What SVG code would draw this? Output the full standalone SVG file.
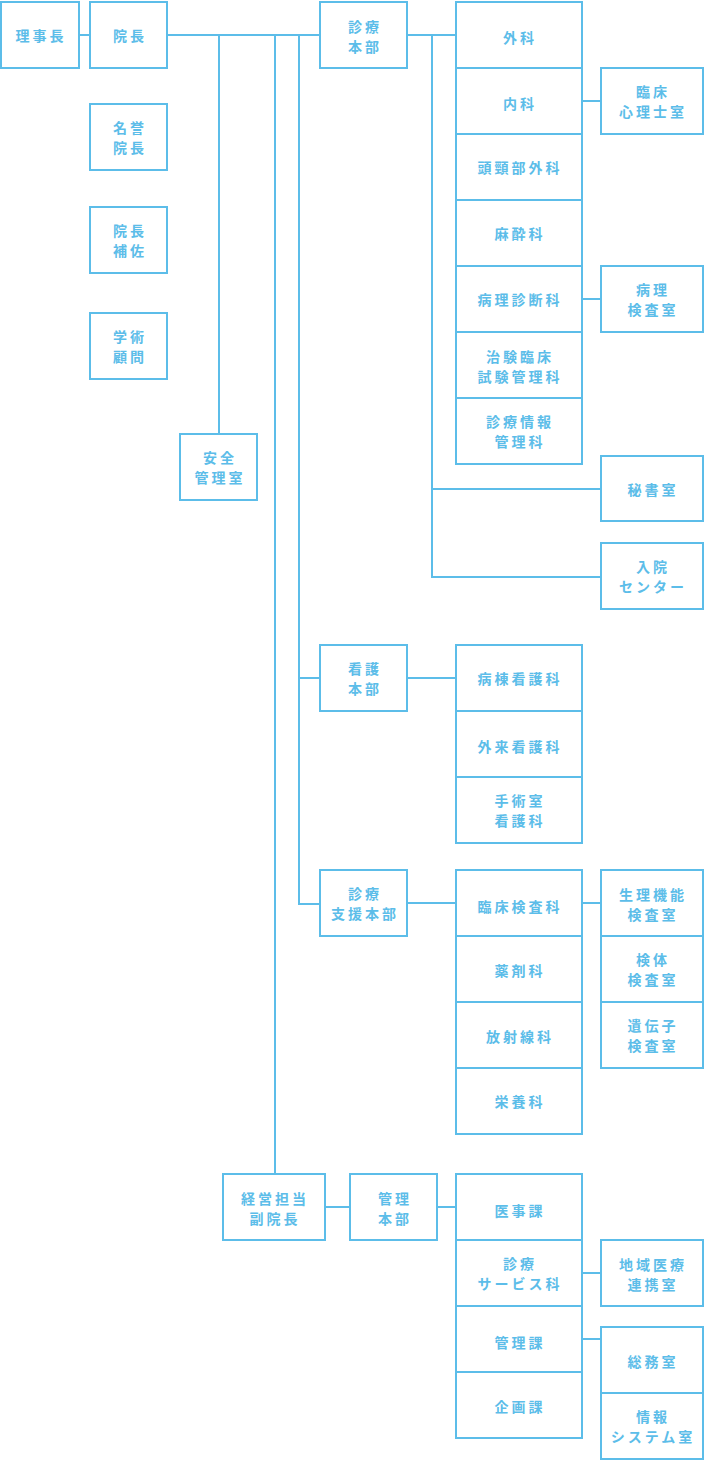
<svg xmlns="http://www.w3.org/2000/svg" width="705" height="1462" viewBox="0 0 705 1462">
<style>
rect{fill:#fff;stroke:#5cbde9;stroke-width:2}
.c line,.c path{stroke:#5cbde9;stroke-width:2;fill:none}
text{fill:#5cbde9;font-family:"Noto Sans CJK JP","Noto Sans",sans-serif;font-size:14px;font-weight:700;letter-spacing:3px;text-anchor:middle;dominant-baseline:central}
</style>
<rect width="705" height="1462" style="stroke:none"/>
<g class="c">
<line x1="79" y1="35" x2="90" y2="35"/>
<line x1="167" y1="35" x2="320" y2="35"/>
<line x1="219" y1="35" x2="219" y2="434"/>
<line x1="275" y1="35" x2="275" y2="1174"/>
<path d="M299 35V904H320"/>
<line x1="299" y1="678" x2="320" y2="678"/>
<line x1="407" y1="35" x2="456" y2="35"/>
<path d="M432 35V577H601"/>
<line x1="432" y1="489" x2="601" y2="489"/>
<line x1="582" y1="101" x2="601" y2="101"/>
<line x1="582" y1="299" x2="601" y2="299"/>
<line x1="407" y1="678" x2="456" y2="678"/>
<line x1="407" y1="903" x2="456" y2="903"/>
<line x1="582" y1="903" x2="601" y2="903"/>
<line x1="325" y1="1207" x2="350" y2="1207"/>
<line x1="437" y1="1207" x2="456" y2="1207"/>
<line x1="582" y1="1273" x2="601" y2="1273"/>
<line x1="582" y1="1339" x2="601" y2="1339"/>
</g>
<g id="rijicho"><rect x="1" y="2" width="78" height="66"/><text x="41" y="35">理事長</text></g>
<g id="incho"><rect x="90" y="2" width="77" height="66"/><text x="130" y="35">院長</text></g>
<g id="meiyo"><rect x="90" y="104" width="77" height="66"/><text x="130" y="127">名誉</text><text x="130" y="147">院長</text></g>
<g id="hosa"><rect x="90" y="207" width="77" height="66"/><text x="130" y="230">院長</text><text x="130" y="250">補佐</text></g>
<g id="komon"><rect x="90" y="313" width="77" height="66"/><text x="130" y="336">学術</text><text x="130" y="356">顧問</text></g>
<g id="anzen"><rect x="180" y="434" width="77" height="66"/><text x="220" y="457">安全</text><text x="220" y="477">管理室</text></g>
<g id="shinryo"><rect x="320" y="2" width="87" height="66"/><text x="365" y="26">診療</text><text x="365" y="46">本部</text></g>
<g id="geka"><rect x="456" y="2" width="126" height="66"/><text x="520" y="37">外科</text></g>
<g id="naika"><rect x="456" y="68" width="126" height="66"/><text x="520" y="103">内科</text></g>
<g id="tokei"><rect x="456" y="134" width="126" height="66"/><text x="520" y="167">頭頸部外科</text></g>
<g id="masui"><rect x="456" y="200" width="126" height="66"/><text x="520" y="233">麻酔科</text></g>
<g id="byori"><rect x="456" y="266" width="126" height="66"/><text x="520" y="299">病理診断科</text></g>
<g id="chiken"><rect x="456" y="332" width="126" height="66"/><text x="520" y="356">治験臨床</text><text x="520" y="376">試験管理科</text></g>
<g id="joho"><rect x="456" y="398" width="126" height="66"/><text x="520" y="421">診療情報</text><text x="520" y="441">管理科</text></g>
<g id="shinri"><rect x="601" y="68" width="102" height="66"/><text x="653" y="91">臨床</text><text x="653" y="111">心理士室</text></g>
<g id="byorikensa"><rect x="601" y="266" width="102" height="66"/><text x="653" y="289">病理</text><text x="653" y="309">検査室</text></g>
<g id="hisho"><rect x="601" y="456" width="102" height="65"/><text x="653" y="489">秘書室</text></g>
<g id="nyuin"><rect x="601" y="543" width="102" height="66"/><text x="653" y="566">入院</text><text x="653" y="586">センター</text></g>
<g id="kango"><rect x="320" y="645" width="87" height="66"/><text x="365" y="668">看護</text><text x="365" y="688">本部</text></g>
<g id="byoto"><rect x="456" y="645" width="126" height="66"/><text x="520" y="678">病棟看護科</text></g>
<g id="gairai"><rect x="456" y="711" width="126" height="66"/><text x="520" y="746">外来看護科</text></g>
<g id="shujutsu"><rect x="456" y="777" width="126" height="66"/><text x="520" y="800">手術室</text><text x="520" y="820">看護科</text></g>
<g id="shien"><rect x="320" y="870" width="87" height="66"/><text x="365" y="893">診療</text><text x="365" y="913">支援本部</text></g>
<g id="rinsho"><rect x="456" y="870" width="126" height="66"/><text x="520" y="906">臨床検査科</text></g>
<g id="yakuzai"><rect x="456" y="936" width="126" height="66"/><text x="520" y="970">薬剤科</text></g>
<g id="hoshasen"><rect x="456" y="1002" width="126" height="66"/><text x="520" y="1036">放射線科</text></g>
<g id="eiyo"><rect x="456" y="1068" width="126" height="66"/><text x="520" y="1101">栄養科</text></g>
<g id="seiri"><rect x="601" y="870" width="102" height="66"/><text x="653" y="894">生理機能</text><text x="653" y="914">検査室</text></g>
<g id="kentai"><rect x="601" y="936" width="102" height="66"/><text x="653" y="959">検体</text><text x="653" y="979">検査室</text></g>
<g id="idenshi"><rect x="601" y="1002" width="102" height="66"/><text x="653" y="1025">遺伝子</text><text x="653" y="1045">検査室</text></g>
<g id="fukuincho"><rect x="223" y="1174" width="102" height="66"/><text x="275" y="1198">経営担当</text><text x="275" y="1218">副院長</text></g>
<g id="kanri"><rect x="350" y="1174" width="87" height="66"/><text x="395" y="1198">管理</text><text x="395" y="1218">本部</text></g>
<g id="iji"><rect x="456" y="1174" width="126" height="66"/><text x="520" y="1210">医事課</text></g>
<g id="service"><rect x="456" y="1240" width="126" height="66"/><text x="520" y="1263">診療</text><text x="520" y="1283">サービス科</text></g>
<g id="kanrika"><rect x="456" y="1306" width="126" height="66"/><text x="520" y="1342">管理課</text></g>
<g id="kikaku"><rect x="456" y="1372" width="126" height="66"/><text x="520" y="1406">企画課</text></g>
<g id="chiiki"><rect x="601" y="1240" width="102" height="66"/><text x="653" y="1264">地域医療</text><text x="653" y="1284">連携室</text></g>
<g id="somu"><rect x="601" y="1327" width="102" height="66"/><text x="653" y="1361">総務室</text></g>
<g id="system"><rect x="601" y="1393" width="102" height="66"/><text x="653" y="1416">情報</text><text x="653" y="1436">システム室</text></g>
</svg>
